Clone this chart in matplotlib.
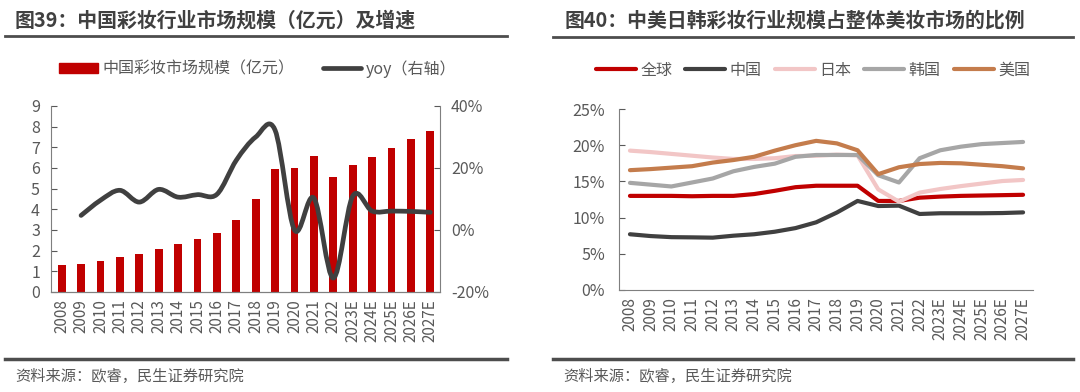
import matplotlib.pyplot as plt
import numpy as np
from matplotlib.lines import Line2D
from matplotlib.patches import Patch, PathPatch
from matplotlib.path import Path

plt.rcParams['font.family'] = ['Noto Sans CJK SC', 'DejaVu Sans']

# 数据
years = ['2008', '2009', '2010', '2011', '2012', '2013', '2014', '2015', '2016', '2017',
         '2018', '2019', '2020', '2021', '2022', '2023E', '2024E', '2025E', '2026E', '2027E']
scale = [1.3, 1.37, 1.48, 1.67, 1.83, 2.06, 2.3, 2.55, 2.86, 3.48,
         4.52, 5.95, 5.98, 6.58, 5.58, 6.15, 6.54, 6.95, 7.38, 7.81]
yoy = [None, 4.7, 9.6, 12.8, 9.0, 13.1, 10.6, 11.4, 11.5, 22.5,
       30.0, 32.2, 0.0, 10.3, -15.5, 10.9, 6.1, 6.1, 6.0, 5.7]

share_global = [13.0, 13.0, 13.0, 12.95, 13.0, 13.0, 13.25, 13.7, 14.2, 14.4,
                14.4, 14.4, 12.3, 12.3, 12.75, 12.9, 13.0, 13.05, 13.1, 13.15]
share_china = [7.7, 7.45, 7.3, 7.27, 7.23, 7.5, 7.7, 8.05, 8.55, 9.35,
               10.7, 12.3, 11.6, 11.65, 10.5, 10.6, 10.6, 10.6, 10.63, 10.72]
share_japan = [19.25, 19.05, 18.8, 18.55, 18.3, 18.1, 18.1, 18.2, 18.5, 18.55,
               18.7, 18.6, 13.9, 12.2, 13.45, 13.95, 14.35, 14.7, 15.05, 15.2]
share_korea = [14.8, 14.55, 14.3, 14.85, 15.4, 16.4, 17.0, 17.45, 18.4, 18.65,
               18.65, 18.65, 15.85, 14.85, 18.2, 19.3, 19.8, 20.15, 20.3, 20.45]
share_us = [16.55, 16.7, 16.9, 17.1, 17.6, 17.95, 18.4, 19.25, 20.0, 20.6,
            20.25, 19.3, 16.0, 16.95, 17.4, 17.55, 17.5, 17.3, 17.1, 16.8]

RED = '#C00000'
DARK = '#404040'
TXT = '#595959'
SPINE = '#7F7F7F'

W, H = 1080, 392
fig = plt.figure(figsize=(W / 100, H / 100), dpi=100)


def box(l, t, r, b):
    return [l / W, (H - b) / H, (r - l) / W, (b - t) / H]


def hline(x0, x1, y, lw):
    fig.add_artist(Line2D([x0 / W, x1 / W], [(H - y) / H] * 2, color='#4D4D4D', lw=lw))


def style(ax):
    ax.tick_params(axis='both', colors=TXT, labelsize=11.5, direction='in', length=4)
    ax.tick_params(axis='x', length=0, labelrotation=90, pad=5, labelsize=11)
    for s in ax.spines.values():
        s.set_color(SPINE)
    ax.spines['top'].set_visible(False)


# ---------------- 图39 ----------------
fig.text(15 / W, 1 - 20 / H, '图39：中国彩妆行业市场规模（亿元）及增速', fontsize=14.3,
         fontweight='bold', color='#404040', va='center')
hline(5, 507, 36, 2)

ax = fig.add_axes(box(51, 106, 440, 292))
x = np.arange(len(years))
ax.bar(x, scale, width=0.4, color=RED, zorder=2)
ax.set_xlim(-0.55, len(years) - 0.5)
ax.set_ylim(0, 9)
ax.set_yticks(range(10))
ax.set_xticks(x)
ax.set_xticklabels(years)
style(ax)
ax.tick_params(axis='y', pad=8)
ax.spines['right'].set_visible(False)

ax2 = ax.twinx()
ax2.set_ylim(-20, 40)
ax2.set_yticks([-20, 0, 20, 40])
ax2.set_yticklabels([f'{v}%' for v in [-20, 0, 20, 40]])
style(ax2)
ax2.tick_params(axis='y', pad=8)
ax2.spines['left'].set_visible(False)

# 平滑曲线 (Excel 风格)
px = np.array([i for i, v in enumerate(yoy) if v is not None], dtype=float)
py = np.array([v for v in yoy if v is not None], dtype=float)
verts = [(px[0], py[0])]
codes = [Path.MOVETO]
n = len(px)
for i in range(n - 1):
    p0 = np.array([px[max(i - 1, 0)], py[max(i - 1, 0)]])
    p1 = np.array([px[i], py[i]])
    p2 = np.array([px[i + 1], py[i + 1]])
    p3 = np.array([px[min(i + 2, n - 1)], py[min(i + 2, n - 1)]])
    c1 = p1 + (p2 - p0) / 6
    c2 = p2 - (p3 - p1) / 6
    verts += [tuple(c1), tuple(c2), tuple(p2)]
    codes += [Path.CURVE4] * 3
ax2.add_patch(PathPatch(Path(verts, codes), fill=False, edgecolor=DARK, lw=3.4,
                        capstyle='round', joinstyle='round', zorder=3))

h1 = [Patch(color=RED), Line2D([], [], color=DARK, lw=3.4, solid_capstyle='round')]
fig.legend(h1, ['中国彩妆市场规模（亿元）', 'yoy（右轴）'], loc='center',
           bbox_to_anchor=(258 / W, 1 - 69 / H), ncol=2, frameon=False,
           fontsize=11.5, labelcolor=TXT, handlelength=2.4, handleheight=0.6,
           handletextpad=0.3, columnspacing=1.8)

hline(5, 507, 359, 2.5)
fig.text(15 / W, 1 - 376 / H, '资料来源：欧睿，民生证券研究院', fontsize=11,
         color=TXT, va='center')

# ---------------- 图40 ----------------
fig.text(565 / W, 1 - 20 / H, '图40：中美日韩彩妆行业规模占整体美妆市场的比例', fontsize=14.3,
         fontweight='bold', color='#404040', va='center')
hline(553, 1073, 37, 2)

bx = fig.add_axes(box(619, 109, 1033, 290))
series = [('全球', share_global, RED), ('中国', share_china, DARK),
          ('日本', share_japan, '#F2C6C6'), ('韩国', share_korea, '#A6A6A6'),
          ('美国', share_us, '#C47C4C')]
for name, vals, c in series:
    bx.plot(x, vals, color=c, lw=3, label=name, solid_capstyle='round')
bx.set_xlim(-0.53, len(years) - 0.52)
bx.set_ylim(0, 25)
bx.set_yticks(range(0, 26, 5))
bx.set_yticklabels([f'{v}%' for v in range(0, 26, 5)])
bx.set_xticks(x)
bx.set_xticklabels(years)
style(bx)
bx.tick_params(axis='y', pad=10)
bx.spines['right'].set_visible(False)

fig.legend(*bx.get_legend_handles_labels(), loc='center',
           bbox_to_anchor=(813 / W, 1 - 70 / H), ncol=5, frameon=False,
           fontsize=11.5, labelcolor=TXT, handlelength=2.5,
           handletextpad=0.3, columnspacing=0.8)

hline(553, 1073, 359, 2.5)
fig.text(563 / W, 1 - 376 / H, '资料来源：欧睿，民生证券研究院', fontsize=11,
         color=TXT, va='center')

fig.savefig('out.png', dpi=100)
